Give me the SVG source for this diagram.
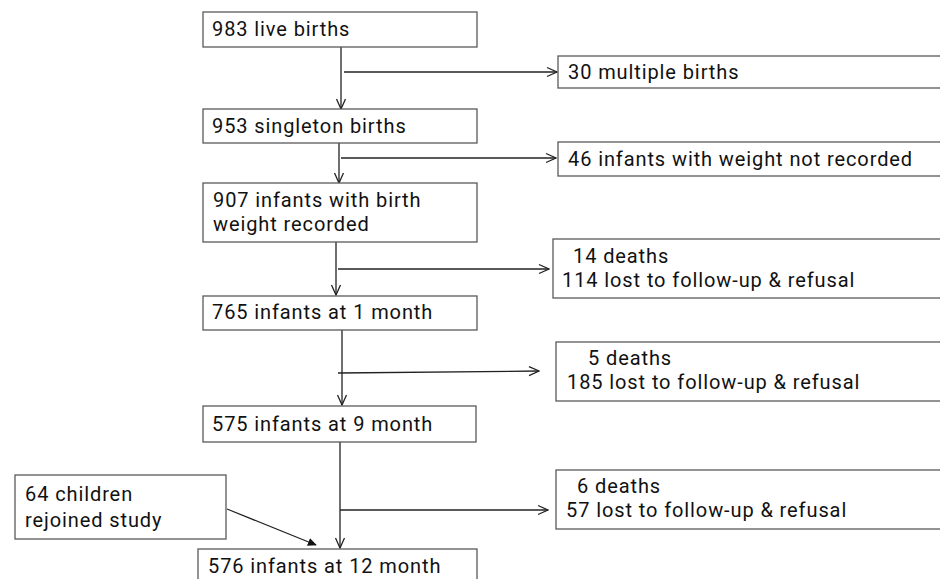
<svg xmlns="http://www.w3.org/2000/svg" width="940" height="579" viewBox="0 0 940 579">
<style>
.box{fill:#fff;stroke:#5a5a5a;stroke-width:1.3}
.t{font-family:Roboto,"Liberation Sans",sans-serif;font-size:20px;letter-spacing:0.9px;fill:#111}
.ln{stroke:#222;stroke-width:1.3;fill:none}
</style>
<defs>
<marker id="open" viewBox="0 0 12 12" refX="11" refY="6" markerWidth="12" markerHeight="12" markerUnits="userSpaceOnUse" orient="auto">
<path d="M1,1.5 L11,6 L1,10.5" fill="none" stroke="#222" stroke-width="1.3"/>
</marker>
<marker id="fill" viewBox="0 0 10 10" refX="9" refY="5" markerWidth="9" markerHeight="9" markerUnits="userSpaceOnUse" orient="auto">
<path d="M0,0.5 L10,5 L0,9.5 Z" fill="#111"/>
</marker>
</defs>
<rect width="940" height="579" fill="#fff"/>
<g id="connectors">
<line class="ln" x1="341" y1="47" x2="341" y2="109" marker-end="url(#open)"/>
<line class="ln" x1="344" y1="72" x2="557" y2="72" marker-end="url(#open)"/>
<line class="ln" x1="339" y1="143" x2="339" y2="183" marker-end="url(#open)"/>
<line class="ln" x1="341" y1="158" x2="556" y2="158" marker-end="url(#open)"/>
<line class="ln" x1="336" y1="242" x2="336" y2="295" marker-end="url(#open)"/>
<line class="ln" x1="338" y1="269" x2="549" y2="269" marker-end="url(#open)"/>
<line class="ln" x1="342" y1="330" x2="342" y2="405" marker-end="url(#open)"/>
<line class="ln" x1="338" y1="373" x2="539" y2="371" marker-end="url(#open)"/>
<line class="ln" x1="340" y1="442" x2="340" y2="548" marker-end="url(#open)"/>
<line class="ln" x1="340" y1="510" x2="548" y2="510" marker-end="url(#open)"/>
<line class="ln" x1="227" y1="509" x2="316" y2="545" marker-end="url(#fill)"/>
</g>
<g id="n1"><rect class="box" x="203" y="12" width="274" height="35"/><text class="t" x="212" y="36">983 live births</text></g>
<g id="n2"><rect class="box" x="558" y="56" width="390" height="32"/><text class="t" x="568" y="79">30 multiple births</text></g>
<g id="n3"><rect class="box" x="203" y="109" width="274" height="34"/><text class="t" x="212" y="133">953 singleton births</text></g>
<g id="n4"><rect class="box" x="558" y="142" width="390" height="34"/><text class="t" x="568" y="166">46 infants with weight not recorded</text></g>
<g id="n5"><rect class="box" x="203" y="183" width="274" height="59"/><text class="t" x="213" y="207">907 infants with birth</text><text class="t" x="213" y="231">weight recorded</text></g>
<g id="n6"><rect class="box" x="553" y="239" width="395" height="59"/><text class="t" x="573" y="263">14 deaths</text><text class="t" x="562" y="287">114 lost to follow-up &amp; refusal</text></g>
<g id="n7"><rect class="box" x="203" y="296" width="274" height="34"/><text class="t" x="212" y="319">765 infants at 1 month</text></g>
<g id="n8"><rect class="box" x="556" y="342" width="392" height="59"/><text class="t" x="588" y="365">5 deaths</text><text class="t" x="567" y="389">185 lost to follow-up &amp; refusal</text></g>
<g id="n9"><rect class="box" x="203" y="406" width="273" height="36"/><text class="t" x="212" y="431">575 infants at 9 month</text></g>
<g id="n10"><rect class="box" x="15" y="475" width="211" height="64"/><text class="t" x="25" y="501">64 children</text><text class="t" x="25" y="527">rejoined study</text></g>
<g id="n11"><rect class="box" x="556" y="470" width="392" height="59"/><text class="t" x="577" y="493">6 deaths</text><text class="t" x="566" y="517">57 lost to follow-up &amp; refusal</text></g>
<g id="n12"><rect class="box" x="198" y="549" width="279" height="40"/><text class="t" x="208" y="573">576 infants at 12 month</text></g>
</svg>
